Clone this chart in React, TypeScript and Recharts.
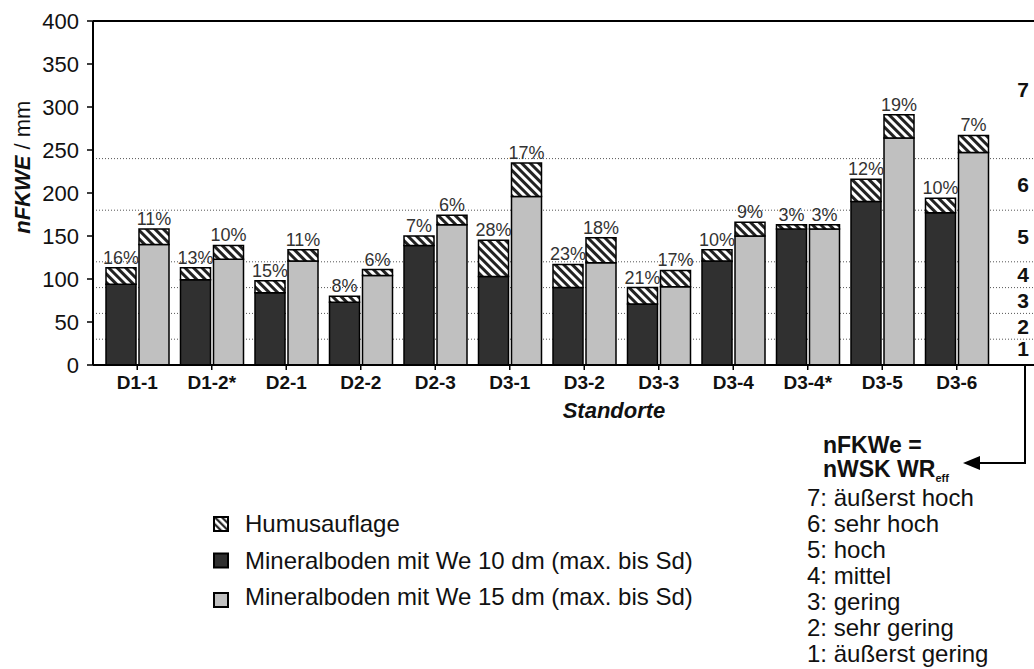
import React from "react";
import {
  Bar,
  BarChart,
  CartesianGrid,
  LabelList,
  ReferenceLine,
  XAxis,
  YAxis,
} from "recharts";

// Standorte und Werte (nFKWE in mm)
const SITES = ["D1-1", "D1-2*", "D2-1", "D2-2", "D2-3", "D3-1", "D3-2", "D3-3", "D3-4", "D3-4*", "D3-5", "D3-6"];
const MINERAL_10 = [94, 99, 84, 73, 139, 103, 90, 71, 121, 158, 190, 177];
const HUMUS_10 = [19, 14, 14, 7, 11, 42, 27, 19, 13, 5, 26, 17];
const MINERAL_15 = [140, 123, 121, 104, 163, 196, 119, 91, 150, 158, 264, 247];
const HUMUS_15 = [18, 16, 13, 7, 11, 39, 29, 19, 16, 5, 27, 20];
const PCT_10 = ["16%", "13%", "15%", "8%", "7%", "28%", "23%", "21%", "10%", "3%", "12%", "10%"];
const PCT_15 = ["11%", "10%", "11%", "6%", "6%", "17%", "18%", "17%", "9%", "3%", "19%", "7%"];

const Y_TICKS = [0, 50, 100, 150, 200, 250, 300, 350, 400];
// Klassengrenzen nWSK WReff und Lage der Klassenziffern
const CLASS_BOUNDS = [30, 60, 90, 120, 180, 240];
const CLASS_MIDS = [19, 45, 75, 105, 150, 210, 320];
const CLASS_NUMS = ["1", "2", "3", "4", "5", "6", "7"];
const CLASS_NAMES = [
  "7: äußerst hoch",
  "6: sehr hoch",
  "5: hoch",
  "4: mittel",
  "3: gering",
  "2: sehr gering",
  "1: äußerst gering",
];
const LEGEND_ITEMS = [
  { label: "Humusauflage", fill: "url(#hatchLegend)" },
  { label: "Mineralboden mit We 10 dm (max. bis Sd)", fill: "#303030" },
  { label: "Mineralboden mit We 15 dm (max. bis Sd)", fill: "#c0c0c0" },
];

const data = SITES.map((site, i) => ({
  site,
  m10: MINERAL_10[i],
  h10: HUMUS_10[i],
  m15: MINERAL_15[i],
  h15: HUMUS_15[i],
  p10: PCT_10[i],
  p15: PCT_15[i],
}));

const FONT = "'Liberation Sans', Arial, sans-serif";

function YTitle(props: any) {
  const { x, y, height } = props.viewBox;
  const cx = x + 22;
  const cy = y + height * 0.425;
  return (
    <text
      x={cx}
      y={cy}
      transform={`rotate(-90 ${cx} ${cy})`}
      textAnchor="middle"
      dominantBaseline="central"
      fontSize={22}
      fill="#111"
    >
      <tspan fontWeight="bold" fontStyle="italic">nFKWE</tspan>
      <tspan> / mm</tspan>
    </text>
  );
}

function XTitle(props: any) {
  const { x, y } = props.viewBox;
  return (
    <text x={x + 521} y={y + 53} textAnchor="middle" fontSize={22} fontWeight="bold" fontStyle="italic" fill="#111">
      Standorte
    </text>
  );
}

// Klassenziffer rechts in der Skalenspalte
function classLabel(text: string) {
  return (props: any) => {
    const { x, y, width } = props.viewBox;
    return (
      <text
        x={x + width - 11}
        y={y}
        textAnchor="middle"
        dominantBaseline="central"
        style={{ fontSize: 21, fontWeight: "bold", fill: "#111" }}
      >
        {text}
      </text>
    );
  };
}

export default function App() {
  return (
    <div style={{ position: "absolute", left: 0, top: 0, width: 1034, height: 669, fontFamily: FONT, background: "#fff" }}>
      <BarChart
        width={1034}
        height={669}
        data={data}
        margin={{ top: 21, right: 0, bottom: 274, left: 0 }}
        barSize={30}
        barGap={3}
      >
        <defs>
          <pattern id="hatch" patternUnits="userSpaceOnUse" width={6} height={6} patternTransform="rotate(-45)">
            <rect width={6} height={6} fill="#fff" />
            <line x1={1.5} y1={0} x2={1.5} y2={6} stroke="#222" strokeWidth={3} />
          </pattern>
        </defs>
        <CartesianGrid
          vertical={false}
          horizontalValues={CLASS_BOUNDS}
          stroke="#555"
          strokeDasharray="1 2"
        />
        <XAxis
          dataKey="site"
          padding={{ left: 7, right: 40 }}
          height={30}
          tickSize={5}
          tickMargin={6}
          axisLine={{ stroke: "#000", strokeWidth: 2 }}
          tickLine={{ stroke: "#000", strokeWidth: 1.5 }}
          tick={{ fontSize: 19, fontWeight: "bold", fill: "#111" }}
          interval={0}
          label={{ content: XTitle }}
        />
        <XAxis xAxisId="frame" type="number" domain={[0, 941]} hide />
        <YAxis
          width={93}
          domain={[0, 400]}
          ticks={Y_TICKS}
          tickSize={6}
          tickMargin={8}
          axisLine={{ stroke: "#000", strokeWidth: 2 }}
          tickLine={{ stroke: "#000", strokeWidth: 1.5 }}
          tick={{ fontSize: 22, fill: "#111" }}
          label={{ content: YTitle }}
        />
        <ReferenceLine y={400} stroke="#000" strokeWidth={2} />
        <ReferenceLine xAxisId="frame" x={915} stroke="#000" strokeWidth={2} />
        {CLASS_MIDS.map((mid, i) => (
          <ReferenceLine key={mid} y={mid} stroke="none" label={{ content: classLabel(CLASS_NUMS[i]) }} />
        ))}
        <Bar dataKey="m10" stackId="a" fill="#303030" stroke="#000" strokeWidth={1.5} isAnimationActive={false} />
        <Bar dataKey="h10" stackId="a" fill="url(#hatch)" stroke="#000" strokeWidth={1.5} isAnimationActive={false}>
          <LabelList dataKey="p10" position="top" offset={4} fontSize={18} fill="#333" />
        </Bar>
        <Bar dataKey="m15" stackId="b" fill="#c0c0c0" stroke="#000" strokeWidth={1.5} isAnimationActive={false} />
        <Bar dataKey="h15" stackId="b" fill="url(#hatch)" stroke="#000" strokeWidth={1.5} isAnimationActive={false}>
          <LabelList dataKey="p15" position="top" offset={4} fontSize={18} fill="#333" />
        </Bar>
      </BarChart>

      <svg
        width={1034}
        height={669}
        style={{ position: "absolute", left: 0, top: 0, pointerEvents: "none" }}
        fontFamily={FONT}
      >
        <defs>
          <pattern id="hatchLegend" patternUnits="userSpaceOnUse" width={5} height={5} patternTransform="rotate(-45)">
            <rect width={5} height={5} fill="#fff" />
            <line x1={1.2} y1={0} x2={1.2} y2={5} stroke="#222" strokeWidth={2.2} />
          </pattern>
        </defs>
        {/* Pfeil von der Klassenskala zur Erklärung */}
        <polyline points="1025,365 1025,463 975,463" fill="none" stroke="#000" strokeWidth={2} />
        <polygon points="963,463 980,456 980,470" fill="#000" />
        <text x={823} y={453} fontSize={23} fontWeight="bold" fill="#111">nFKWe =</text>
        <text x={823} y={477} fontSize={23} fontWeight="bold" fill="#111">
          nWSK WR<tspan fontSize={11} dy={5}>eff</tspan>
        </text>
        {CLASS_NAMES.map((name, i) => (
          <text key={name} x={807} y={506 + i * 26} fontSize={24} fill="#111">
            {name}
          </text>
        ))}
        {LEGEND_ITEMS.map((item, i) => (
          <g key={item.label}>
            <rect
              x={214}
              y={517 + i * 36.5 + (i === 2 ? 3 : 0)}
              width={14}
              height={14}
              fill={item.fill}
              stroke="#000"
              strokeWidth={2}
            />
            <text x={245} y={532 + i * 36.5} fontSize={24} fill="#111">
              {item.label}
            </text>
          </g>
        ))}
      </svg>
    </div>
  );
}
